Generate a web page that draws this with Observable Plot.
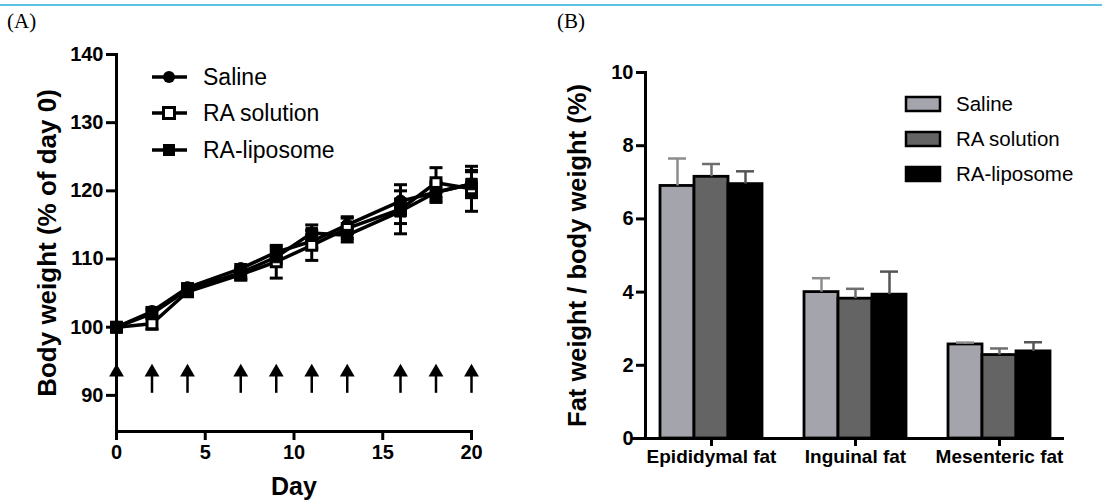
<!DOCTYPE html>
<html><head><meta charset="utf-8">
<script src="https://cdn.jsdelivr.net/npm/d3@7"></script>
<script src="https://cdn.jsdelivr.net/npm/@observablehq/plot@0.6"></script>
<style>
body{margin:0;background:#fff;}
#wrap{position:relative;width:1102px;height:502px;overflow:hidden;font-family:"Liberation Sans",Arial,sans-serif;color:#000;}
.panel{position:absolute;top:0;}
#topline{position:absolute;left:0;top:4px;width:1102px;height:2px;background:#5cc3e4;}
.tag{position:absolute;top:9px;font-family:"Liberation Serif","Times New Roman",serif;font-size:21px;line-height:24px;}
.row{position:absolute;display:flex;align-items:center;white-space:nowrap;}
.row svg{display:block;}
</style></head>
<body>
<div id="wrap">
  <div id="topline"></div>
  <div class="tag" style="left:7px">(A)</div>
  <div class="tag" style="left:557px">(B)</div>
  <div class="panel" id="panelA" style="left:0"></div>
  <div class="panel" id="panelB" style="left:551px"></div>
  <div id="legendA"></div>
  <div id="legendB"></div>
</div>
<script>
// ---------- Panel A data ----------
const days = [0, 2, 4, 7, 9, 11, 13, 16, 18, 20];
const injectionDays = [0, 2, 4, 7, 9, 11, 13, 16, 18, 20];
const seriesNames = ["Saline", "RA solution", "RA-liposome"];
const salineMean = [100, 102.3, 105.8, 108.6, 111.0, 112.6, 115.0, 118.5, 119.8, 121.0];
const salineSD   = [0, 0.6, 0.6, 0.6, 0.7, 1.0, 1.2, 1.5, 1.5, 1.8];
const raSolMean  = [100, 100.5, 105.2, 107.7, 109.6, 112.0, 114.5, 117.3, 121.2, 120.3];
const raSolSD    = [0, 0.8, 0.7, 0.8, 2.4, 2.2, 1.5, 3.6, 2.2, 3.3];
const raLipMean  = [100, 102.0, 105.5, 108.0, 110.3, 113.8, 113.5, 117.0, 119.8, 121.0];
const raLipSD    = [0, 0.6, 0.5, 0.8, 1.0, 1.2, 1.0, 1.8, 1.2, 2.0];
const bwTicksY = [90, 100, 110, 120, 130, 140];
const bwTicksX = [0, 5, 10, 15, 20];
const arrowBase = 90.3, arrowHead = 93.4;

// ---------- Panel B data ----------
const fatGroups = ["Epididymal fat", "Inguinal fat", "Mesenteric fat"];
const fatSaline = [6.90, 4.00, 2.57];
const fatSalineErr = [0.75, 0.38, 0.05];
const fatRASol = [7.15, 3.82, 2.28];
const fatRASolErr = [0.35, 0.27, 0.18];
const fatRALip = [6.95, 3.93, 2.38];
const fatRALipErr = [0.35, 0.63, 0.25];
const fatTicksY = [0, 2, 4, 6, 8, 10];
const barFills = ["#a4a4ac", "#646464", "#000000"];
const errColors = ["#8c8c8c", "#6e6e6e", "#555555"];

// ---------- build tables ----------
const bwMeans = [salineMean, raSolMean, raLipMean];
const bwSDs = [salineSD, raSolSD, raLipSD];
const bw = seriesNames.flatMap((s, i) => days.map((d, j) => ({series: s, day: d, mean: bwMeans[i][j], sd: bwSDs[i][j]})));
const fatVals = [fatSaline, fatRASol, fatRALip];
const fatErrs = [fatSalineErr, fatRASolErr, fatRALipErr];
const fatData = seriesNames.flatMap((s, i) => fatGroups.map((g, j) => ({series: s, group: g, value: fatVals[i][j], err: fatErrs[i][j]})));

const capSymbol = {draw(ctx, size) { const r = Math.sqrt(size / Math.PI); ctx.moveTo(-r, 0); ctx.lineTo(r, 0); }};
const font = "Liberation Sans, Arial, sans-serif";
const markerStyles = [
  {symbol: "circle", r: 6, fill: "#000", stroke: "#000", strokeWidth: 1},
  {symbol: "square", r: 5.6, fill: "#fff", stroke: "#000", strokeWidth: 3},
  {symbol: "square", r: 6.5, fill: "#000", stroke: "#000", strokeWidth: 1}
];

const plotA = Plot.plot({
  width: 551, height: 502,
  marginLeft: 116, marginRight: 80, marginTop: 54, marginBottom: 71,
  style: {fontFamily: font, color: "#000", background: "transparent", overflow: "visible"},
  x: {domain: [0, 20]},
  y: {domain: [84.7, 140]},
  marks: [
    Plot.ruleX(injectionDays, {x: d => d, y1: arrowBase, y2: arrowHead, strokeWidth: 2.5}),
    Plot.dot(injectionDays, {x: d => d, y: arrowHead, symbol: "triangle", r: 5.5, fill: "#000"}),
    Plot.line(bw, {x: "day", y: "mean", z: "series", stroke: "#000", strokeWidth: 3.5}),
    Plot.ruleX(bw, {x: "day", y1: d => d.mean - d.sd, y2: d => d.mean + d.sd, strokeWidth: 3}),
    Plot.dot(bw, {x: "day", y: d => d.mean - d.sd, symbol: capSymbol, r: 6.5, fill: "none", stroke: "#000", strokeWidth: 3}),
    Plot.dot(bw, {x: "day", y: d => d.mean + d.sd, symbol: capSymbol, r: 6.5, fill: "none", stroke: "#000", strokeWidth: 3}),
    ...seriesNames.map((s, i) => Plot.dot(bw.filter(d => d.series === s), {x: "day", y: "mean", ...markerStyles[i]})),
    Plot.frame({anchor: "left", strokeWidth: 3}),
    Plot.frame({anchor: "bottom", strokeWidth: 3}),
    Plot.axisY({ticks: bwTicksY, tickSize: 10, tickPadding: 3, fontSize: 20, fontWeight: "bold", strokeWidth: 3, label: null}),
    Plot.axisX({ticks: bwTicksX, tickSize: 9, tickPadding: 4, fontSize: 20, fontWeight: "bold", strokeWidth: 3, label: null}),
    Plot.text(["Body weight (% of day 0)"], {text: d => d, frameAnchor: "left", textAnchor: "middle", rotate: -90, dx: -69, fontSize: 26, fontWeight: "bold"}),
    Plot.text(["Day"], {text: d => d, frameAnchor: "bottom", textAnchor: "middle", dy: 63, fontSize: 25, fontWeight: "bold"})
  ]
});
document.getElementById("panelA").appendChild(plotA);

const plotB = Plot.plot({
  width: 551, height: 502,
  marginLeft: 94, marginRight: 37, marginTop: 72, marginBottom: 64,
  style: {fontFamily: font, color: "#000", background: "transparent", overflow: "visible"},
  fx: {domain: fatGroups, paddingInner: 0.278, paddingOuter: 0.097, label: null},
  x: {domain: seriesNames, padding: 0, axis: null},
  y: {domain: [0, 10], label: null},
  color: {domain: seriesNames, range: barFills},
  marks: [
    Plot.barY(fatData, {fx: "group", x: "series", y: "value", fill: "series", stroke: "#000", strokeWidth: 2.8}),
    ...seriesNames.map((s, i) => Plot.ruleX(fatData.filter(d => d.series === s), {fx: "group", x: "series", y1: "value", y2: d => d.value + d.err, stroke: errColors[i], strokeWidth: 2.5})),
    ...seriesNames.map((s, i) => Plot.tickY(fatData.filter(d => d.series === s), {fx: "group", x: "series", y: d => d.value + d.err, stroke: errColors[i], strokeWidth: 2.5, insetLeft: 8, insetRight: 8})),
    Plot.ruleY([0], {strokeWidth: 3, insetLeft: -27, insetRight: -13}),
    Plot.frame({anchor: "left", facetAnchor: "left", strokeWidth: 3, dx: -14}),
    Plot.axisY({ticks: fatTicksY, tickSize: 9, tickPadding: 3, fontSize: 20, fontWeight: "bold", strokeWidth: 3, label: null, dx: -14}),
    Plot.axisFx({anchor: "bottom", tickSize: 8, tickPadding: 3, fontSize: 19, fontWeight: "bold", strokeWidth: 3, label: null}),
    Plot.text(["Fat weight / body weight (%)"], {text: d => d, facetAnchor: "left", frameAnchor: "left", textAnchor: "middle", rotate: -90, dx: -82, fontSize: 25.5, fontWeight: "bold"})
  ]
});
document.getElementById("panelB").appendChild(plotB);

// ---------- legends (HTML) ----------
const legA = document.getElementById("legendA");
const legARows = [77, 113, 150];
seriesNames.forEach((s, i) => {
  const row = document.createElement("div");
  row.className = "row";
  row.style.left = "150px"; row.style.top = (legARows[i] - 14) + "px"; row.style.height = "28px";
  let mk;
  if (i === 0) mk = `<circle cx="19" cy="14" r="6" fill="#000"/>`;
  else if (i === 1) mk = `<rect x="13.5" y="8.5" width="11" height="11" fill="#fff" stroke="#000" stroke-width="3"/>`;
  else mk = `<rect x="13" y="8" width="12" height="12" fill="#000"/>`;
  row.innerHTML = `<svg width="40" height="28"><line x1="2" x2="37" y1="14" y2="14" stroke="#000" stroke-width="3.5"/>${mk}</svg><span style="margin-left:13px;font-size:23px;">${s}</span>`;
  legA.appendChild(row);
});
const legB = document.getElementById("legendB");
const legBRows = [104, 139, 174];
seriesNames.forEach((s, i) => {
  const row = document.createElement("div");
  row.className = "row";
  row.style.left = "903px"; row.style.top = (legBRows[i] - 12) + "px"; row.style.height = "24px";
  row.innerHTML = `<svg width="40" height="24"><rect x="3" y="5" width="34" height="14" fill="${barFills[i]}" stroke="#000" stroke-width="2.5"/></svg><span style="margin-left:13px;font-size:20.5px;">${s}</span>`;
  legB.appendChild(row);
});
</script>
</body></html>
